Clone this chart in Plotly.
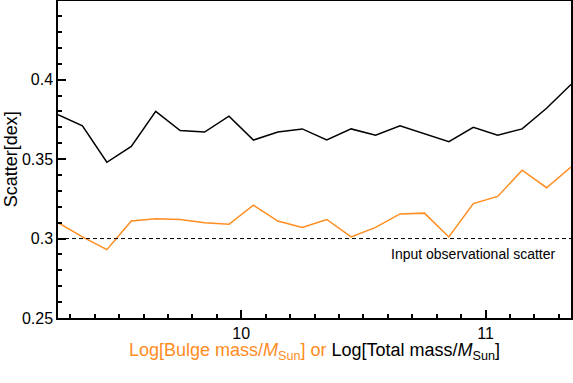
import plotly.graph_objects as go

orange = "#FF8C1E"

mass = [9.25, 9.35, 9.45, 9.55, 9.65, 9.75, 9.85, 9.95, 10.05, 10.15, 10.25,
        10.35, 10.45, 10.55, 10.65, 10.75, 10.85, 10.95, 11.05, 11.15, 11.25, 11.35]

scatter_total = [0.378, 0.371, 0.348, 0.358, 0.380, 0.368, 0.367, 0.377, 0.362, 0.367, 0.369,
                 0.362, 0.369, 0.365, 0.371, 0.366, 0.361, 0.370, 0.365, 0.369, 0.382, 0.397]

scatter_bulge = [0.310, 0.301, 0.293, 0.311, 0.3125, 0.312, 0.310, 0.309, 0.321, 0.311, 0.307,
                 0.312, 0.301, 0.307, 0.3155, 0.316, 0.301, 0.322, 0.3265, 0.343, 0.332, 0.345]

input_scatter = 0.3

fig = go.Figure()

fig.add_trace(go.Scatter(x=mass, y=scatter_total, mode="lines",
                         line=dict(color="black", width=1.5)))
fig.add_trace(go.Scatter(x=mass, y=scatter_bulge, mode="lines",
                         line=dict(color=orange, width=1.5)))

fig.add_hline(y=input_scatter, line=dict(color="black", width=1, dash="4px,3px"))
fig.add_annotation(x=10.95, y=0.2905, text="Input observational scatter",
                   showarrow=False, font=dict(size=14, color="black"))

xtitle = (f'<span style="color:{orange}">Log[Bulge mass/<i>M</i><sub>Sun</sub>] or</span>'
          ' Log[Total mass/<i>M</i><sub>Sun</sub>]')

# axis titles as paper annotations so the plot area stays put
fig.add_annotation(x=0.5, y=-0.107, xref="paper", yref="paper", text=xtitle,
                   showarrow=False, font=dict(size=18), yanchor="middle")
fig.add_annotation(x=-0.092, y=0.5, xref="paper", yref="paper", text="Scatter[dex]",
                   showarrow=False, font=dict(size=18), textangle=-90, xanchor="center")

fig.update_layout(
    width=573, height=383,
    margin=dict(l=58, r=2, t=1, b=65),
    paper_bgcolor="white", plot_bgcolor="white",
    showlegend=False,
    font=dict(family="Liberation Sans", size=16, color="black"),
    xaxis=dict(
        range=[9.25, 11.35], automargin=False,
        tick0=10, dtick=1,
        ticks="inside", ticklen=8, tickwidth=1.5, tickcolor="black",
        minor=dict(dtick=0.1, tick0=10, ticks="inside", ticklen=4, tickwidth=1.5, tickcolor="black"),
        showline=True, linecolor="black", linewidth=1.5, mirror=True,
        showgrid=False, zeroline=False,
    ),
    yaxis=dict(
        range=[0.25, 0.4495], automargin=False,
        tick0=0.25, dtick=0.05,
        ticks="inside", ticklen=8, tickwidth=1.5, tickcolor="black",
        minor=dict(dtick=0.01, tick0=0.25, ticks="inside", ticklen=4, tickwidth=1.5, tickcolor="black"),
        showline=True, linecolor="black", linewidth=1.5, mirror=True,
        showgrid=False, zeroline=False,
    ),
)

# the page body has a default margin; drop it so the figure sits at the window corner
fig.write_html("out.html", config={"displayModeBar": False},
               post_script="document.body.style.margin='0';")
